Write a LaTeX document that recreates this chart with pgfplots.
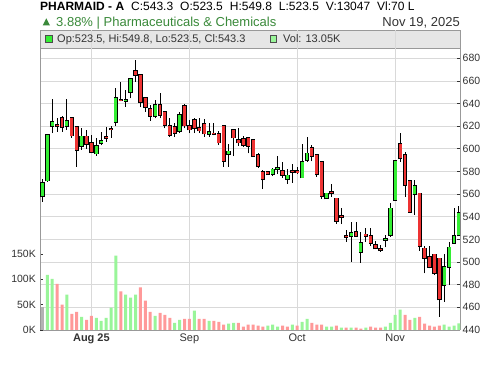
\documentclass[border=0pt]{standalone}
\usepackage{pgfplots}
\pgfplotsset{compat=1.18}
\usepackage{pgfplotstable}
\usepackage{fontspec}
\setmainfont{Liberation Sans}
\definecolor{cgreen}{HTML}{33EE33}
\definecolor{cred}{HTML}{EE3333}
\definecolor{vgreen}{HTML}{99F599}
\definecolor{vred}{HTML}{FF9999}
\definecolor{vgray}{HTML}{B3B3B3}
\definecolor{gridc}{HTML}{D9D9D9}
\definecolor{axc}{HTML}{999999}
\definecolor{txt}{HTML}{333333}
\definecolor{hdgreen}{HTML}{3A8A3A}
\definecolor{boxfill}{HTML}{E6E6E6}

\pgfplotstableread{
i O H L C
1 558 573 553.5 570
2 572 612 571 612
3 620 644 614 623.5
4 620.8 627 615 620.3
5 627.6 629 615 619
6 620 644 617 624.4
7 627.6 628 610 611.8
8 619.7 620 584 598.8
9 602.4 618.5 599 611
10 611 617 600 604
11 605 612 596 597
12 595.9 610 594 602.4
13 605 615 603 607
14 610.6 619 606.5 609.6
15 617.5 620 610 617
16 624 654 620 644.7
17 643.6 659 642 643
18 642 652 637 643.5
19 650 662 644.7 661.5
20 668.5 678.5 659.4 665.3
21 665.3 665.3 636.8 641.2
22 644.7 645 633 636.8
23 635 639 625 629
24 629 643 627 638.5
25 638.5 649.4 627 630
26 632.4 632.4 618 621.2
27 620.3 627 610.3 612.4
28 619.7 623 610.3 613.8
29 615.6 632.4 613.8 630.3
30 637.6 639.7 618.2 620.6
31 620.6 625.6 613.8 617
32 625.3 627 613.8 618
33 618.2 627 613.8 616.2
34 621.8 626.8 610.6 613.5
35 613 623 610.6 615
36 613.6 623 612 613
37 613.5 615.6 603.2 605.6
38 620 620 584 589.4
39 595.2 604.7 584 597.8
40 617 617 593.5 610
41 607.6 618 602.6 605.5
42 609 611 602 603.2
43 610 610.6 596 602.6
44 607.6 608 593 594
45 594.4 596 583 584.7
46 580 581 564.4 573
47 579.4 580 577 577.6
48 577.6 583 576 581.8
49 581.8 594 577.6 583.5
50 580.6 588 574.7 576.8
51 573.5 582 569.4 576.5
52 580.5 587 570 579.8
53 580.6 584 578 579
54 574.7 604 574.7 588.8
55 590 610.6 588.5 596
56 601 603 589 593.5
57 594.4 594.4 575.3 577.4
58 588.2 588.2 556 558
59 556.2 560.6 555.9 560.6
60 562 568.8 557.6 561
61 556.2 556.2 534 536.2
62 540.8 547.4 533.5 539.6
63 523.3 528.3 518 522.4
64 523.3 535.7 500.3 525.4
65 526.3 535.6 522.4 523
66 509.2 527 499.5 516.6
67 524.4 529.7 518 523
68 523 530 514 516.5
69 515 518.5 511.2 512
70 511.8 515 509 510.5
71 519.5 523.8 513 520.3
72 523.8 551.8 522.4 547.4
73 554.7 589.1 554.7 589.1
74 604.7 614.4 588.5 591.5
75 595 596.8 557.6 568
76 571.5 572.4 543.5 544.4
77 560 572.4 542 567
78 560.6 560.6 510 514.4
79 512 514 490 503.8
80 504.7 514 494.4 495.9
81 506.8 506.8 488.5 490
82 503.2 503.2 451.8 467
83 479.4 507.4 465 495.9
84 495.9 518 479.7 513
85 517 548 517 522.9
86 523.5 549.8 523.5 543.3
}\ohlc

\pgfplotstableread{
i V
2 109
3 101
6 70
9 26
12 24
13 18
14 24
15 44
16 147
18 70
19 64
20 70
24 28
28 14
29 20
32 38
35 18
39 12.5
40 14
47 8.5
48 10.5
49 6.6
52 10.5
54 16
55 22
59 6.6
60 6.6
62 4.6
64 4.6
67 4.6
71 6.6
72 14
73 30
74 40
77 24
83 10.5
84 6.6
85 8.5
86 13.05
}\volg

\pgfplotstableread{
i V
4 91
5 50
7 32
8 36
10 20
11 28
17 76
21 84
22 58
23 36
25 34
26 30
27 24
30 22
31 22
33 22
34 22
36 18
37 16
38 10.5
41 14
42 6.6
43 10.5
44 10.5
45 8.5
46 6.6
50 8.5
51 6.6
53 8.5
56 14
57 10.5
58 10.5
61 8.5
63 4.6
65 4.6
66 2.6
68 6.6
69 4.6
70 4.6
75 30
76 20
78 26
79 12.5
80 8.5
81 6.6
82 8.5
}\volr

\pgfplotsset{
  base/.style={at={(40pt,36pt)}, anchor=south west, width=420pt, height=300pt,
    scale only axis, xmin=0.51, xmax=86.22,
    /pgf/number format/assume math mode=true,
    tick label style={font=\fontsize{10.5}{12}\selectfont, text=txt}},
  ebar/.style={draw=none, mark=none, forget plot}
}

\begin{document}
\begin{tikzpicture}[x=1pt,y=1pt]
\useasboundingbox (0,0) rectangle (500,366);
\fill[white] (0,0) rectangle (500,366);
% legend box background
\fill[boxfill] (40,318) rectangle (460,335.5);
\draw[axc, line width=0.8pt] (40,318) rectangle (460,335.5);

% background axis: grid, right price scale, month labels
\begin{axis}[base, ymin=440, ymax=705,
  axis x line*=bottom, axis y line*=right,
  axis line style={draw=axc, line width=0.8pt, -},
  xtick={11,31,53,73}, xticklabels={\textbf{Aug 25},Sep,Oct,Nov},
  ytick={440,460,...,680},
  grid=major, grid style={draw=gridc, line width=0.8pt},
  tick align=inside, major tick length=3pt,
  ytick style={draw=txt, line width=0.8pt}, xtick style={draw=none},
  yticklabel style={anchor=west, inner sep=0pt, xshift=2.5pt},
  xticklabel style={inner sep=0pt, yshift=-4pt, font=\fontsize{11}{13}\selectfont},
]
\addplot[draw=none] coordinates {(1,500)};
\end{axis}

% volume axis
\begin{axis}[base, ymin=0, ymax=592,
  axis y line*=left, axis x line=none,
  axis line style={draw=axc, line width=0.8pt, -},
  ytick={0,50,100,150}, yticklabels={0K,50K,100K,150K},
  tick align=inside, major tick length=3pt,
  ytick style={draw=txt, line width=0.8pt},
  yticklabel style={anchor=east, inner sep=0pt, xshift=-4pt},
  ybar, bar width=3pt, bar shift=0pt,
]
\addplot[fill=vgreen, draw=none] table[x=i, y=V] {\volg};
\addplot[fill=vred, draw=none] table[x=i, y=V] {\volr};
\addplot[fill=vgray, draw=none] coordinates {(1,45)};
\end{axis}

% candle axis
\begin{axis}[base, ymin=440, ymax=705, hide axis]
\addplot[ebar, error bars/.cd, y dir=plus, y explicit, error mark=none,
  error bar style={draw=black, line width=0.9pt, solid}]
  table[x=i, y=L, y error plus expr={\thisrow{H}-\thisrow{L}}] {\ohlc};
\addplot[ebar, error bars/.cd, y dir=plus, y explicit, error mark=none,
  error bar style={draw=black, line width=4.4pt, solid}]
  table[x=i, y expr={min(\thisrow{O},\thisrow{C})-0.75}, y error plus expr={abs(\thisrow{C}-\thisrow{O})+1.5}] {\ohlc};
\addplot[ebar, restrict expr to domain={\thisrow{C}-\thisrow{O}}{0.01:1000},
  error bars/.cd, y dir=plus, y explicit, error mark=none,
  error bar style={draw=cgreen, line width=2.9pt, solid}]
  table[x=i, y=O, y error plus expr={\thisrow{C}-\thisrow{O}}] {\ohlc};
\addplot[ebar, restrict expr to domain={\thisrow{O}-\thisrow{C}}{0.01:1000},
  error bars/.cd, y dir=plus, y explicit, error mark=none,
  error bar style={draw=cred, line width=2.9pt, solid}]
  table[x=i, y=C, y error plus expr={\thisrow{O}-\thisrow{C}}] {\ohlc};
\end{axis}

% header
\node[anchor=base west, inner sep=0pt, font=\fontsize{12}{14}\selectfont] at (40,355)
  {\textbf{PHARMAID - A}\hspace{7pt}C:543.3\hspace{7pt}O:523.5\hspace{7pt}H:549.8\hspace{7pt}L:523.5\hspace{7pt}V:13047\hspace{7pt}Vl:70 L};
\fill[hdgreen] (42.7,340.5) -- (50,340.5) -- (46.35,347.7) -- cycle;
\node[anchor=base west, inner sep=0pt, font=\fontsize{13}{15}\selectfont, text=hdgreen] at (56,339.7)
  {3.88\% | Pharmaceuticals \& Chemicals};
\node[anchor=base east, inner sep=0pt, font=\fontsize{13}{15}\selectfont, text=txt] at (460,339.7)
  {Nov 19, 2025};
% legend
\filldraw[fill=cgreen, draw=black!70, line width=0.6pt] (45.7,324) rectangle (52.3,331);
\node[anchor=base west, inner sep=0pt, font=\fontsize{11}{13}\selectfont, text=txt] at (57,323.5)
  {Op:523.5, Hi:549.8, Lo:523.5, Cl:543.3};
\filldraw[fill=vgreen, draw=black!70, line width=0.6pt] (270,324) rectangle (276.5,331);
\node[anchor=base west, inner sep=0pt, font=\fontsize{11}{13}\selectfont, text=txt] at (283,323.5)
  {Vol: 13.05K};
\end{tikzpicture}
\end{document}
